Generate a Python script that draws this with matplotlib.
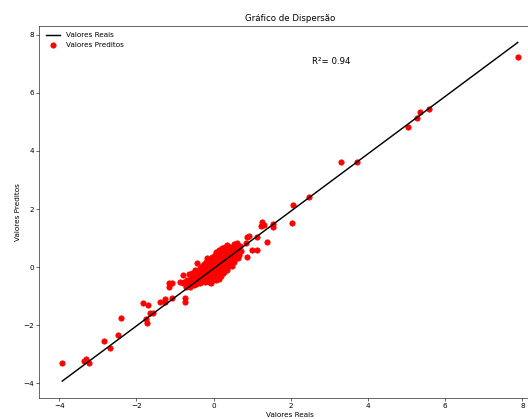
import matplotlib
matplotlib.use('Agg')
import matplotlib.pyplot as plt

# Valores reais (eixo x) e valores preditos (eixo y) lidos do gráfico
# pontos fora do aglomerado central
outer_real = [-3.92, -3.37, -3.31, -3.22, -2.85, -2.68, -2.48, -2.39,
              -1.83, -1.71, -1.64, -1.57, -1.74, -1.72, -1.39, -1.25,
              -1.25, -1.07, -1.16, -1.07, -1.16, -0.86, -0.80, -0.73,
              -0.73, -0.77,
              0.87, 0.92, 1.12, 0.83, 0.87, 1.00, 1.13, 1.39, 1.26,
              1.31, 1.24, 1.55, 1.54, 2.03, 2.06, 2.46, 3.30, 3.71,
              5.03, 5.27, 5.34, 5.58, 7.88]
outer_pred = [-3.29, -3.23, -3.16, -3.32, -2.54, -2.79, -2.34, -1.77,
              -1.23, -1.30, -1.60, -1.60, -1.80, -1.94, -1.22, -1.11,
              -1.20, -1.05, -0.56, -0.54, -0.70, -0.51, -0.28, -1.08,
              -1.20, -0.51,
              1.05, 1.07, 1.05, 0.82, 0.33, 0.59, 0.59, 0.87, 1.56,
              1.45, 1.41, 1.48, 1.39, 1.53, 2.13, 2.40, 3.63, 3.63,
              4.82, 5.14, 5.36, 5.46, 7.23]

# aglomerado perto de zero
cluster_real = [-0.78, -0.72, -0.70, -0.66, -0.64, -0.62, -0.60, -0.58, -0.55,
                -0.55, -0.52, -0.50, -0.48, -0.47, -0.45, -0.42, -0.42, -0.40,
                -0.38, -0.36, -0.35, -0.34, -0.32, -0.30, -0.30, -0.28, -0.26,
                -0.25, -0.24, -0.22, -0.21, -0.20, -0.19, -0.18, -0.16, -0.15,
                -0.14, -0.13, -0.12, -0.11, -0.10, -0.09, -0.08, -0.07, -0.06,
                -0.05, -0.04, -0.03, -0.02, -0.01, 0.00, 0.01, 0.02, 0.03,
                0.04, 0.05, 0.05, 0.06, 0.07, 0.08, 0.09, 0.10, 0.11, 0.12,
                0.13, 0.14, 0.15, 0.16, 0.17, 0.18, 0.19, 0.20, 0.21, 0.22,
                0.23, 0.24, 0.25, 0.26, 0.27, 0.28, 0.29, 0.30, 0.31, 0.32,
                0.33, 0.35, 0.35, 0.36, 0.37, 0.38, 0.40, 0.41, 0.42, 0.43,
                0.45, 0.46, 0.47, 0.48, 0.50, 0.52, 0.53, 0.55, 0.56, 0.58,
                0.60, 0.61, 0.63, 0.64, 0.66, 0.68, 0.70]
cluster_pred = [-0.55, -0.68, -0.45, -0.60, -0.25, -0.50, -0.70, -0.38, -0.55,
                -0.20, -0.62, -0.30, -0.45, -0.10, -0.58, 0.13, -0.35, -0.22,
                -0.50, -0.05, -0.40, -0.54, -0.15, -0.30, 0.05, -0.45, -0.20,
                0.10, -0.35, -0.52, -0.08, 0.18, -0.25, -0.42, 0.30, -0.12,
                0.02, -0.32, -0.50, 0.15, -0.20, 0.25, -0.56, -0.05, -0.38,
                0.08, -0.28, 0.35, -0.15, -0.45, 0.00, 0.20, -0.22, 0.42,
                -0.35, 0.53, -0.45, 0.10, -0.10, 0.30, -0.30, 0.45, -0.02, 0.18,
                -0.40, 0.60, -0.18, 0.05, 0.35, -0.30, 0.50, 0.12, -0.08, 0.65,
                0.25, -0.22, 0.40, 0.02, -0.16, 0.55, 0.18, 0.70, -0.05, 0.32,
                0.08, 0.76, 0.45, -0.10, 0.22, 0.60, 0.05, 0.38, 0.70, 0.15,
                0.50, 0.28, 0.02, 0.65, 0.35, 0.78, 0.18, 0.52, 0.30, 0.68,
                0.42, 0.82, 0.30, 0.58, 0.41, 0.72, 0.55]

y_test = outer_real + cluster_real
y_pred = outer_pred + cluster_pred

# linha de referência
line_x = [-3.92, 7.88]
line_y = [-3.93, 7.74]

r2 = 0.94

fig = plt.figure(figsize=(528 / 52, 419 / 52), dpi=52)
ax = fig.add_axes([0.0748, 0.0501, 0.949, 0.889])

ax.plot(line_x, line_y, color='black', linewidth=2, label='Valores Reais')
ax.scatter(y_test, y_pred, color='red', s=55, label='Valores Preditos')
ax.text(2.55, 7.0, f'R²= {r2}', fontsize=12)

ax.set_title('Gráfico de Dispersão')
ax.set_xlabel('Valores Reais')
ax.set_ylabel('Valores Preditos')
ax.legend(loc='upper left', frameon=False)

fig.savefig('out.png', dpi=52)
